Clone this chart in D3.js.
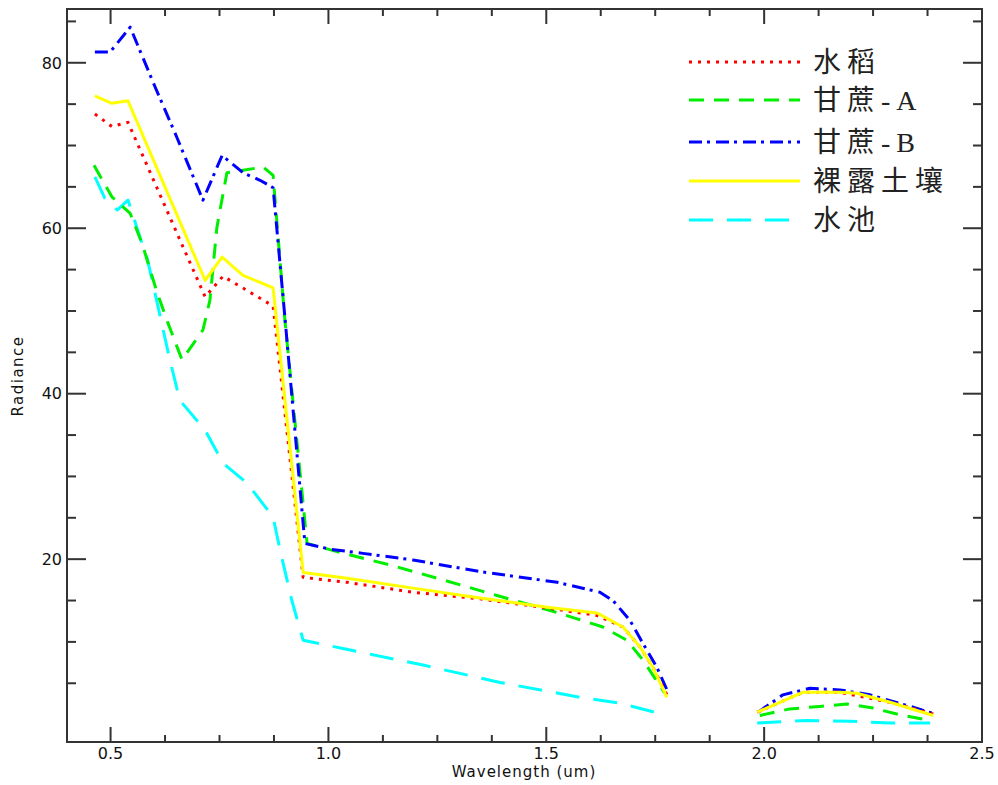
<!DOCTYPE html>
<html>
<head>
<meta charset="utf-8">
<script src="https://cdn.jsdelivr.net/npm/d3@7"></script>
<style>
  body { margin: 0; background: #fff; }
  svg { display: block; font-family: "DejaVu Sans", sans-serif; }
</style>
</head>
<body>
<svg id="chart" width="998" height="785"></svg>
<script>
// series names (legend)
const names = ["水稻", "甘蔗-A", "甘蔗-B", "裸露土壤", "水池"];

// wavelength (um) / radiance per series, null = gap in the spectrum
const riceWl  = [0.464, 0.503, 0.540, 0.717, 0.758, 0.873, 0.942, 1.043, 1.194, 1.348, 1.502, 1.616, 1.676, 1.715, 1.745, 1.777, null, 1.984, 2.089, 2.174, 2.289, 2.388];
const riceRad = [73.8, 72.3, 72.8, 51.7, 54.2, 50.6, 17.8, 17.2, 16.0, 15.2, 14.1, 13.2, 11.8, 9.4, 6.9, 3.6, null, 1.5, 3.9, 3.9, 2.7, 1.3];

const caneAWl  = [0.462, 0.503, 0.545, 0.572, 0.607, 0.632, 0.664, 0.712, 0.728, 0.744, 0.767, 0.850, 0.873, 0.900, 0.951, 1.027, 1.141, 1.263, 1.387, 1.515, 1.630, 1.685, 1.722, 1.772, null, 1.990, 2.059, 2.128, 2.190, 2.250, 2.319, 2.381];
const caneARad = [67.6, 63.8, 61.8, 58.2, 52.2, 48.5, 44.1, 47.7, 51.3, 60.1, 66.7, 67.4, 66.4, 48.9, 21.9, 20.8, 19.3, 17.5, 15.6, 13.7, 11.8, 10.2, 7.8, 3.8, null, 1.1, 1.9, 2.2, 2.5, 2.0, 1.1, 0.5];

const caneBWl  = [0.464, 0.499, 0.545, 0.602, 0.652, 0.712, 0.756, 0.804, 0.843, 0.873, 0.900, 0.946, 1.004, 1.079, 1.194, 1.348, 1.525, 1.623, 1.653, 1.692, 1.722, 1.754, 1.777, null, 1.986, 2.043, 2.105, 2.174, 2.243, 2.342, 2.385];
const caneBRad = [81.3, 81.3, 84.3, 77.1, 71.0, 63.4, 68.8, 66.7, 65.8, 64.9, 49.3, 21.9, 21.2, 20.7, 19.9, 18.5, 17.2, 16.0, 15.0, 12.6, 9.8, 6.9, 4.2, null, 1.5, 3.6, 4.4, 4.2, 3.6, 2.1, 1.4];

const soilWl  = [0.464, 0.503, 0.540, 0.717, 0.756, 0.804, 0.873, 0.942, 1.043, 1.194, 1.348, 1.502, 1.616, 1.676, 1.715, 1.745, 1.777, null, 1.984, 2.089, 2.174, 2.213, 2.289, 2.388];
const soilRad = [76.0, 75.1, 75.4, 53.7, 56.5, 54.3, 52.8, 18.4, 17.7, 16.5, 15.3, 14.2, 13.5, 11.8, 9.4, 6.9, 3.3, null, 1.5, 3.9, 3.9, 3.8, 2.7, 1.1];

const pondWl  = [0.464, 0.487, 0.515, 0.540, 0.572, 0.584, 0.636, 0.659, 0.717, 0.758, 0.813, 0.873, 0.889, 0.916, 0.942, 1.033, 1.217, 1.394, 1.577, 1.669, 1.756, null, 1.984, 2.098, 2.197, 2.289, 2.381];
const pondRad = [66.2, 63.6, 62.2, 63.4, 58.2, 56.4, 44.1, 39.2, 35.6, 31.6, 29.2, 25.1, 21.1, 15.0, 10.2, 9.2, 7.2, 5.1, 3.3, 2.6, 1.4, null, 0.2, 0.5, 0.4, 0.2, 0.2];

// tick values
const xMajor = [0.5, 1.0, 1.5, 2.0, 2.5];
const xMinor = [0.625, 0.75, 0.875, 1.125, 1.25, 1.375, 1.625, 1.75, 1.875, 2.125, 2.25, 2.375];
const yMajor = [20, 40, 60, 80];
const yMinor = [5, 10, 15, 25, 30, 35, 45, 50, 55, 65, 70, 75, 85];

const colors = ["#ff0000", "#00ee00", "#0000ff", "#ffff00", "#00ffff"];
const dashes = ["3,6", "15,10", "13,5,3,6", null, "24,14"];

const svg = d3.select("#chart");
const pLeft = 67, pRight = 982, pTop = 9, pBottom = 742;

const x = d3.scaleLinear().domain([0.4, 2.5]).range([pLeft, pRight]);
const y = d3.scaleLinear().domain([-2.1, 86.5]).range([pBottom, pTop]);

// lines
const series = [
  d3.zip(riceWl, riceRad),
  d3.zip(caneAWl, caneARad),
  d3.zip(caneBWl, caneBRad),
  d3.zip(soilWl, soilRad),
  d3.zip(pondWl, pondRad)
];

const line = d3.line()
  .defined(d => d[0] != null && d[1] != null)
  .x(d => x(d[0]))
  .y(d => y(d[1]));

svg.append("clipPath").attr("id", "clip")
  .append("rect").attr("x", pLeft).attr("y", pTop)
  .attr("width", pRight - pLeft).attr("height", pBottom - pTop);

const order = [4, 1, 2, 0, 3];
svg.append("g").attr("clip-path", "url(#clip)")
  .selectAll("path")
  .data(order)
  .join("path")
  .attr("d", i => line(series[i]))
  .attr("fill", "none")
  .attr("stroke", i => colors[i])
  .attr("stroke-width", 3)
  .attr("stroke-linejoin", "round")
  .attr("stroke-dasharray", i => dashes[i]);

// frame + ticks
const axisColor = "#333";
svg.append("rect")
  .attr("x", pLeft).attr("y", pTop)
  .attr("width", pRight - pLeft).attr("height", pBottom - pTop)
  .attr("fill", "none").attr("stroke", axisColor).attr("stroke-width", 2);

const ticks = svg.append("g").attr("stroke", axisColor).attr("stroke-width", 2);
function xTicks(vals, len) {
  vals.forEach(v => {
    ticks.append("line").attr("x1", x(v)).attr("x2", x(v)).attr("y1", pBottom).attr("y2", pBottom - len);
    ticks.append("line").attr("x1", x(v)).attr("x2", x(v)).attr("y1", pTop).attr("y2", pTop + len);
  });
}
function yTicks(vals, len) {
  vals.forEach(v => {
    ticks.append("line").attr("x1", pLeft).attr("x2", pLeft + len).attr("y1", y(v)).attr("y2", y(v));
    ticks.append("line").attr("x1", pRight).attr("x2", pRight - len).attr("y1", y(v)).attr("y2", y(v));
  });
}
xTicks(xMajor.filter(v => v < 2.5), 15);
xTicks(xMinor, 7);
yTicks(yMajor, 19);
yTicks(yMinor, 9);

// tick labels
svg.append("g").selectAll("text")
  .data(xMajor)
  .join("text")
  .attr("x", d => x(d))
  .attr("y", 759)
  .attr("text-anchor", "middle")
  .attr("font-size", 16)
  .attr("fill", "#111")
  .text(d => d3.format(".1f")(d));

svg.append("g").selectAll("text")
  .data(yMajor)
  .join("text")
  .attr("x", pLeft - 5)
  .attr("y", d => y(d))
  .attr("dy", "0.36em")
  .attr("text-anchor", "end")
  .attr("font-size", 16)
  .attr("fill", "#111")
  .text(d => d);

// axis titles
svg.append("text")
  .attr("x", 524).attr("y", 777)
  .attr("text-anchor", "middle")
  .attr("font-size", 15)
  .attr("letter-spacing", 1)
  .attr("fill", "#111")
  .text("Wavelength (um)");

svg.append("text")
  .attr("transform", "translate(23,376) rotate(-90)")
  .attr("text-anchor", "middle")
  .attr("font-size", 15)
  .attr("letter-spacing", 1.5)
  .attr("fill", "#111")
  .text("Radiance");

// legend
const legendY = [62, 100, 142, 181, 220];
const legend = svg.append("g");
names.forEach((n, i) => {
  legend.append("line")
    .attr("x1", 689).attr("x2", 800)
    .attr("y1", legendY[i]).attr("y2", legendY[i])
    .attr("stroke", colors[i])
    .attr("stroke-width", 3)
    .attr("stroke-dasharray", dashes[i]);
  legend.append("text")
    .attr("x", 813).attr("y", legendY[i])
    .attr("dy", "0.35em")
    .attr("font-family", "'Liberation Serif', 'Noto Sans CJK TC', serif")
    .attr("font-size", 28)
    .attr("letter-spacing", 6)
    .attr("fill", "#222")
    .text(n);
});
</script>
</body>
</html>
